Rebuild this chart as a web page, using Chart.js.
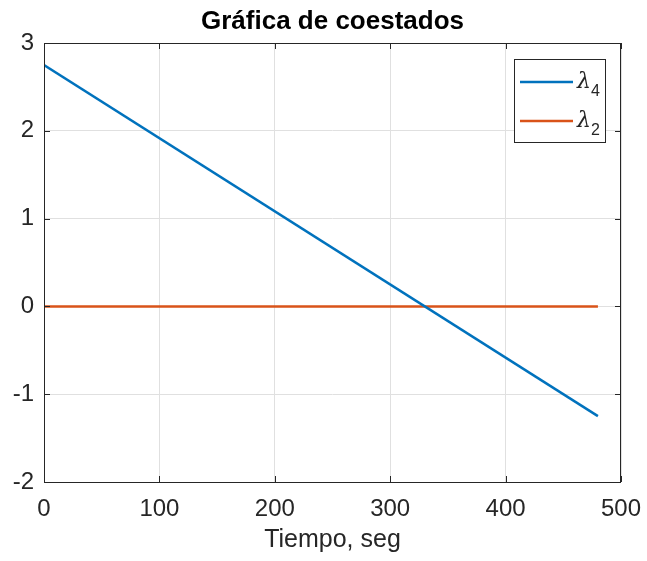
<!DOCTYPE html>
<html>
<head>
<meta charset="utf-8">
<title>Gráfica de coestados</title>
<script src="https://cdn.jsdelivr.net/npm/chart.js@4.4.1/dist/chart.umd.min.js"></script>
<style>
  html, body { margin: 0; padding: 0; background: #fff; }
  #wrap { position: relative; width: 647px; height: 561px; }
</style>
</head>
<body>
<div id="wrap"><canvas id="chart"></canvas></div>
<script>
// co-state trajectories over time (seconds)
const time = [0, 480];
const lambda4 = [2.75, -1.25];
const lambda2 = [0, 0];
const seriesNames = ["λ_4", "λ_2"]; // symbol_subscript
const seriesColors = ["#0072BD", "#D95319"];
const xTicks = [0, 100, 200, 300, 400, 500];
const yTicks = [-2, -1, 0, 1, 2, 3];
const chartTitle = "Gráfica de coestados";
const xLabel = "Tiempo, seg";

const FONT = "'Liberation Sans', Arial, Helvetica, sans-serif";
const INK = "#262626";

const toPoints = (xs, ys) => xs.map((x, i) => ({ x: x, y: ys[i] }));

// title, closed box with inward ticks, and the legend (MATLAB look)
const axesDecor = {
  id: "axesDecor",
  afterDraw(chart) {
    const { ctx, chartArea: a, scales } = chart;
    ctx.save();

    ctx.fillStyle = "#000";
    ctx.font = "bold 26px " + FONT;
    ctx.textAlign = "center";
    ctx.textBaseline = "alphabetic";
    ctx.fillText(chartTitle, (a.left + a.right) / 2, 29);

    ctx.strokeStyle = INK;
    ctx.lineWidth = 1;
    ctx.strokeRect(Math.round(a.left) + 0.5, Math.round(a.top) + 0.5,
      Math.round(a.right - a.left) - 1, Math.round(a.bottom - a.top));

    const len = 6;
    ctx.beginPath();
    xTicks.forEach((v) => {
      const px = Math.round(scales.x.getPixelForValue(v)) + 0.5;
      ctx.moveTo(px, a.bottom); ctx.lineTo(px, a.bottom - len);
      ctx.moveTo(px, a.top); ctx.lineTo(px, a.top + len);
    });
    yTicks.forEach((v) => {
      const py = Math.round(scales.y.getPixelForValue(v)) + 0.5;
      ctx.moveTo(a.left, py); ctx.lineTo(a.left + len, py);
      ctx.moveTo(a.right, py); ctx.lineTo(a.right - len, py);
    });
    ctx.stroke();

    // legend box
    const bx = 514.5, by = 59.5, bw = 91, bh = 83;
    ctx.fillStyle = "#fff";
    ctx.fillRect(bx, by, bw, bh);
    ctx.strokeRect(bx, by, bw, bh);
    seriesNames.forEach((name, i) => {
      const [sym, sub] = name.split("_");
      const y = 82 + i * 39;
      ctx.strokeStyle = seriesColors[i];
      ctx.lineWidth = 2.5;
      ctx.beginPath();
      ctx.moveTo(520, y); ctx.lineTo(573, y);
      ctx.stroke();
      ctx.fillStyle = INK;
      ctx.textAlign = "left";
      ctx.textBaseline = "alphabetic";
      ctx.font = "italic 22px 'DejaVu Serif', serif";
      ctx.fillText(sym, 577, y + 6);
      const w = ctx.measureText(sym).width;
      ctx.font = "16px " + FONT;
      ctx.fillText(sub, 577 + w, y + 14);
    });

    ctx.restore();
  }
};

new Chart(document.getElementById("chart"), {
  type: "line",
  data: {
    datasets: [
      {
        label: seriesNames[0],
        data: toPoints(time, lambda4),
        borderColor: seriesColors[0],
        borderWidth: 2.5,
        pointRadius: 0,
        tension: 0,
      },
      {
        label: seriesNames[1],
        data: toPoints(time, lambda2),
        borderColor: seriesColors[1],
        borderWidth: 2.5,
        pointRadius: 0,
        tension: 0,
      },
    ],
  },
  options: {
    responsive: true,
    maintainAspectRatio: false,
    animation: false,
    layout: { padding: { top: 43, right: 26, left: 0, bottom: 0 } },
    plugins: {
      legend: { display: false },
      title: { display: false },
      tooltip: { enabled: false },
    },
    scales: {
      x: {
        type: "linear",
        min: xTicks[0],
        max: xTicks[xTicks.length - 1],
        afterFit: (s) => { s.height = 79; s.paddingLeft = 0; s.paddingRight = 0; },
        afterBuildTicks: (s) => { s.ticks = xTicks.map((v) => ({ value: v })); },
        grid: { color: "#e0e0e0", drawTicks: false },
        border: { display: false },
        ticks: {
          color: INK,
          padding: 13,
          maxRotation: 0,
          font: { family: FONT, size: 24 },
        },
        title: {
          display: true,
          text: xLabel,
          color: INK,
          padding: { top: 0, bottom: 6 },
          font: { family: FONT, size: 25 },
        },
      },
      y: {
        type: "linear",
        min: yTicks[0],
        max: yTicks[yTicks.length - 1],
        afterFit: (s) => { s.width = 44; s.paddingTop = 0; s.paddingBottom = 0; },
        afterBuildTicks: (s) => { s.ticks = yTicks.map((v) => ({ value: v })); },
        grid: { color: "#e0e0e0", drawTicks: false },
        border: { display: false },
        ticks: {
          color: INK,
          padding: 10,
          font: { family: FONT, size: 24 },
        },
      },
    },
  },
  plugins: [axesDecor],
});
</script>
</body>
</html>
